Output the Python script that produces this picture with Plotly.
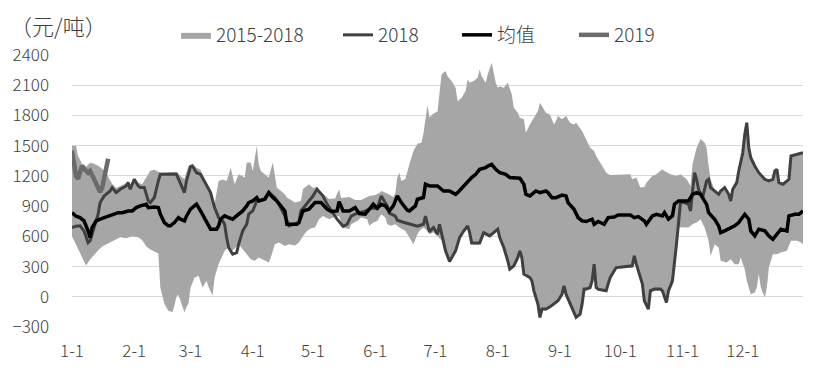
import plotly.graph_objects as go

# ---------------- data (day of year index, 0 = Jan 1) ----------------
month_ticks = [0, 31, 59, 90, 120, 151, 181, 212, 243, 273, 304, 334]
month_labels = ["1-1", "2-1", "3-1", "4-1", "5-1", "6-1", "7-1", "8-1", "9-1", "10-1", "11-1", "12-1"]
y_ticks = [-300, 0, 300, 600, 900, 1200, 1500, 1800, 2100, 2400]

band_upper_days = [0, 2, 3, 5, 7, 9, 11, 13, 15, 17, 19, 20, 22, 24, 27, 28, 29, 31, 33, 35, 37, 39, 41, 43, 44, 52, 54, 56, 58, 60,
                   62, 64, 65, 67, 69, 71, 73, 75, 77, 79, 81, 83, 86, 87, 89, 90, 92, 93, 94, 98, 100, 102, 106, 107, 111, 114, 115, 118, 120, 122,
                   125, 128, 131, 133, 134, 138, 141, 144, 148, 151, 153, 154, 157, 160, 161, 162, 163, 164, 166, 167, 168, 170, 172, 174, 175, 177, 178, 180, 182, 184,
                   186, 187, 189, 191, 192, 194, 196, 197, 198, 200, 202, 203, 204, 206, 207, 209, 211, 212, 213, 215, 217, 219, 220, 222, 223, 225, 226, 228, 230, 232,
                   233, 235, 236, 238, 240, 241, 242, 244, 246, 248, 250, 251, 254, 256, 258, 260, 261, 263, 265, 266, 268, 278, 279, 281, 283, 285, 286, 289, 291, 294,
                   295, 298, 301, 303, 304, 306, 308, 309, 310, 311, 313, 315, 316, 317, 318, 320, 322, 323, 325, 327, 328, 329, 331, 332, 334, 335, 336, 337, 338, 340,
                   342, 345, 347, 349, 350, 351, 352, 354, 357, 358, 361, 364]
band_upper = [1500, 1500, 1400, 1320, 1290, 1330, 1320, 1300, 1270, 1230, 1160, 1120, 1080, 1100, 1130, 1150, 1100, 1180, 1130, 1120, 1180, 1250, 1260, 1240, 1230, 1240, 1200, 1170, 1300, 1320,
              1280, 1260, 1200, 1110, 1050, 920, 1150, 1165, 1150, 1280, 1117, 1216, 1183, 1333, 1333, 1249, 1496, 1315, 1249, 1183, 1332, 1084, 1017, 985, 935, 950, 1070, 1117, 1080, 1090,
              1020, 970, 975, 1067, 980, 990, 960, 960, 1000, 1010, 1030, 1050, 1025, 990, 1030, 1183, 1232, 1150, 1170, 1250, 1315, 1447, 1520, 1530, 1620, 1900, 1780, 1820, 1840, 2207,
              2240, 2190, 2141, 2074, 1942, 1975, 2042, 2157, 2124, 2141, 2174, 2256, 2190, 2124, 2207, 2322, 2124, 2074, 2091, 2074, 2124, 2008, 1876, 1827, 1777, 1761, 1628, 1711, 1777, 1843,
              1926, 1860, 1827, 1810, 1711, 1744, 1794, 1761, 1794, 1728, 1711, 1728, 1645, 1563, 1480, 1447, 1397, 1331, 1265, 1232, 1209, 1216, 1166, 1183, 1084, 1090, 1133, 1199, 1216, 1265,
              1249, 1216, 1199, 1216, 1200, 1170, 1100, 1320, 1400, 1477, 1566, 1530, 1480, 1300, 1166, 1060, 1030, 1060, 1090, 1030, 1000, 1070, 1140, 1260, 1440, 1620, 1735, 1490, 1390, 1300,
              1240, 1175, 1160, 1175, 1255, 1270, 1140, 1125, 1175, 1400, 1420, 1435]

band_lower_days = [0, 2, 4, 6, 7, 9, 11, 13, 15, 18, 21, 24, 27, 30, 33, 35, 37, 39, 41, 43, 44, 46, 48, 50, 51, 52, 53, 54, 56, 57,
                   58, 59, 61, 63, 65, 67, 68, 70, 71, 73, 74, 76, 78, 80, 83, 85, 87, 89, 91, 93, 95, 98, 99, 101, 103, 106, 108, 111, 113, 115,
                   117, 119, 121, 123, 125, 128, 130, 133, 135, 138, 139, 142, 144, 147, 148, 150, 152, 154, 156, 157, 159, 161, 163, 166, 168, 170, 172, 173, 175, 177,
                   178, 180, 182, 184, 186, 188, 191, 193, 195, 197, 198, 199, 203, 205, 208, 212, 213, 215, 217, 218, 220, 222, 223, 224, 225, 228, 229, 230, 232, 233,
                   234, 236, 238, 240, 242, 244, 245, 246, 248, 250, 251, 253, 254, 255, 256, 258, 259, 260, 261, 262, 265, 266, 267, 268, 270, 271, 279, 280, 281, 282,
                   284, 285, 287, 288, 290, 293, 294, 296, 297, 299, 300, 301, 302, 303, 305, 307, 309, 311, 313, 315, 317, 318, 320, 322, 323, 326, 328, 330, 332, 333,
                   335, 336, 338, 340, 341, 342, 343, 345, 346, 347, 349, 351, 353, 356, 358, 361, 363, 364]
band_lower = [600, 520, 430, 360, 310, 370, 420, 460, 500, 530, 560, 590, 580, 600, 590, 560, 500, 470, 450, 430, 90, -70, -140, -150, -90, 0, 20, -40, -155, -100,
              -70, 90, 190, 208, 92, 158, 100, 10, 191, 324, 373, 456, 489, 460, 522, 470, 423, 373, 357, 390, 370, 340, 390, 522, 538, 505, 522, 510, 538, 604,
              654, 680, 687, 770, 803, 770, 786, 803, 687, 670, 720, 753, 786, 770, 704, 737, 753, 820, 786, 720, 704, 720, 687, 654, 588, 522, 621, 654, 687, 654,
              620, 640, 600, 560, 440, 340, 440, 570, 630, 680, 620, 520, 520, 620, 590, 650, 570, 470, 340, 260, 290, 370, 440, 370, 210, 175, 140, 40, -90, -215,
              -135, -135, -115, -90, -55, 10, 95, 10, -90, -185, -215, -185, -90, 60, 60, 75, 140, 305, 75, 60, 50, 45, 115, 175, 240, 275, 290, 390, 310, 240,
              115, -55, -135, 45, 60, 60, 45, -70, 45, 140, 305, 500, 690, 690, 690, 687, 720, 737, 770, 687, 555, 406, 522, 489, 357, 340, 373, 324, 324, 390,
              274, 159, 26, 43, 92, 225, 92, -7, 92, 290, 423, 423, 439, 456, 555, 555, 538, 522]

y2018_days = [0, 2, 4, 6, 8, 9, 11, 13, 14, 16, 19, 20, 22, 24, 27, 28, 29, 31, 33, 34, 36, 38, 39, 41, 43, 44, 52, 54, 56, 57,
              59, 60, 62, 64, 67, 69, 71, 73, 75, 76, 77, 78, 80, 82, 83, 85, 87, 88, 90, 92, 93, 96, 98, 101, 103, 106, 108, 111, 113, 114,
              116, 118, 120, 122, 125, 127, 130, 132, 135, 137, 139, 142, 146, 149, 152, 154, 157, 158, 161, 162, 165, 168, 172, 175, 176, 178, 180, 182, 183, 186,
              188, 191, 193, 195, 197, 198, 199, 203, 205, 208, 212, 213, 215, 217, 218, 220, 222, 223, 224, 225, 228, 229, 230, 232, 233, 234, 236, 238, 240, 242,
              244, 245, 246, 248, 250, 251, 253, 254, 255, 256, 258, 259, 260, 261, 262, 265, 266, 267, 268, 270, 271, 279, 280, 281, 282, 284, 285, 287, 288, 290,
              293, 294, 296, 297, 299, 300, 301, 303, 305, 307, 308, 310, 311, 312, 314, 316, 317, 318, 320, 322, 323, 325, 327, 328, 329, 331, 332, 334, 335, 336,
              337, 338, 340, 342, 345, 347, 349, 350, 351, 352, 354, 357, 358, 361, 364]
y2018 = [687, 700, 704, 654, 538, 555, 687, 820, 935, 1001, 1050, 1084, 1034, 1067, 1100, 1133, 1067, 1166, 1100, 1084, 1084, 952, 935, 985, 1150, 1216, 1216, 1117, 1034, 1150,
         1290, 1298, 1232, 1216, 1100, 1034, 885, 786, 753, 720, 588, 489, 423, 439, 522, 654, 720, 820, 852, 952, 952, 968, 1034, 985, 919, 803, 704, 720, 737, 852,
         902, 950, 1000, 1067, 1000, 920, 830, 770, 700, 720, 800, 830, 850, 880, 880, 1000, 900, 830, 800, 760, 740, 720, 700, 720, 800, 645, 687, 621, 720, 456,
         350, 456, 588, 653, 704, 637, 535, 535, 637, 604, 671, 588, 489, 357, 274, 307, 390, 456, 390, 225, 191, 159, 59, -73, -205, -122, -122, -100, -73, -40,
         26, 109, 26, -73, -172, -205, -172, -73, 76, 76, 92, 159, 324, 92, 76, 66, 59, 129, 191, 258, 290, 307, 406, 324, 258, 129, -40, -122, 59, 76,
         76, 59, -56, 59, 159, 324, 522, 935, 935, 918, 852, 1232, 1166, 1067, 984, 1150, 1166, 1084, 1050, 1017, 1050, 1084, 1017, 951, 1067, 1133, 1249, 1430, 1612, 1728,
         1480, 1380, 1298, 1232, 1166, 1150, 1166, 1249, 1265, 1133, 1117, 1166, 1397, 1414, 1430]

mean_days = [0, 2, 4, 6, 8, 9, 10, 12, 14, 16, 19, 20, 23, 25, 28, 30, 32, 34, 37, 38, 41, 43, 44, 46, 48, 49, 51, 53, 54, 56,
             57, 59, 62, 64, 67, 69, 72, 73, 74, 76, 78, 80, 83, 85, 87, 88, 90, 92, 93, 96, 98, 100, 102, 104, 106, 107, 109, 112, 113, 115,
             118, 121, 124, 127, 129, 132, 133, 135, 138, 141, 143, 146, 148, 150, 152, 154, 156, 158, 160, 162, 164, 167, 168, 171, 172, 175, 176, 178, 182, 185,
             188, 191, 192, 195, 197, 199, 201, 203, 206, 207, 209, 211, 213, 216, 218, 223, 225, 226, 228, 231, 233, 236, 237, 239, 241, 244, 246, 247, 250, 252,
             254, 256, 259, 260, 262, 265, 267, 270, 272, 278, 280, 282, 285, 286, 289, 291, 294, 295, 297, 299, 300, 302, 304, 307, 309, 311, 313, 316, 317, 320,
             322, 323, 325, 327, 330, 332, 335, 337, 338, 340, 342, 345, 347, 349, 351, 353, 356, 357, 360, 362, 364]
mean_vals = [835, 800, 786, 753, 654, 588, 687, 753, 770, 786, 803, 820, 835, 835, 852, 852, 885, 902, 919, 885, 891, 885, 820, 737, 704, 704, 737, 786, 770, 753,
             800, 870, 919, 852, 737, 671, 671, 704, 770, 803, 786, 770, 820, 852, 902, 935, 952, 985, 952, 968, 1034, 985, 952, 902, 852, 720, 720, 720, 737, 852,
             870, 935, 935, 869, 846, 852, 945, 852, 852, 885, 826, 820, 869, 919, 879, 919, 902, 852, 902, 1001, 935, 859, 852, 902, 968, 985, 1117, 1100, 1100, 1050,
             1050, 1017, 1034, 1100, 1133, 1183, 1216, 1265, 1282, 1298, 1315, 1265, 1232, 1216, 1183, 1176, 1117, 1017, 1001, 1050, 1034, 1050, 1034, 984, 984, 1010, 1001, 935, 869, 786,
             753, 747, 770, 720, 747, 720, 786, 792, 812, 812, 786, 796, 753, 720, 803, 819, 803, 836, 770, 803, 919, 951, 951, 951, 1017, 1034, 1017, 918, 836, 770,
             704, 637, 654, 671, 704, 737, 819, 770, 654, 604, 671, 654, 604, 571, 621, 671, 654, 803, 819, 819, 852]

y2019_days = [0, 1, 2, 3, 4, 5, 6, 7, 8, 9, 10, 11, 12, 13, 14, 15, 16, 17, 18]
y2019 = [1450, 1320, 1200, 1170, 1230, 1300, 1270, 1240, 1230, 1250, 1210, 1180, 1120, 1080, 1040, 1080, 1170, 1300, 1370]

# ---------------- figure ----------------
FONT = "Noto Sans CJK SC"
TEXT = "#404040"
LEG_Y = (327 - 35) / 272

fig = go.Figure()
fig.add_trace(go.Scatter(
    x=band_lower_days + band_upper_days[::-1],
    y=band_lower + band_upper[::-1],
    fill="toself", fillcolor="#a6a6a6", line=dict(width=0, color="#a6a6a6"),
    mode="lines", name="2015-2018", hoverinfo="skip", legend="legend"))
fig.add_trace(go.Scatter(x=y2018_days, y=y2018, mode="lines", name="2018",
                         line=dict(color="#404040", width=3), legend="legend2"))
fig.add_trace(go.Scatter(x=mean_days, y=mean_vals, mode="lines", name="均值",
                         line=dict(color="#000000", width=3.5), legend="legend3"))
fig.add_trace(go.Scatter(x=y2019_days, y=y2019, mode="lines", name="2019",
                         line=dict(color="#6a6a6a", width=4.5), legend="legend4"))

def leg(xpx):
    return dict(orientation="h", x=(xpx - 72) / 731, y=LEG_Y, xanchor="left", yanchor="middle",
                font=dict(family=FONT, size=19, color=TEXT, weight=300), bgcolor="rgba(0,0,0,0)")

# the page body has an 8px margin: the figure is sized so that the plot area
# lands at x 72..803, y 55..327 of the 814x371 window
fig.update_layout(
    width=806, height=355,
    margin=dict(l=64, r=11, t=47, b=36, autoexpand=False),
    paper_bgcolor="white", plot_bgcolor="white",
    font=dict(family=FONT, size=17, color=TEXT, weight=300),
    showlegend=True,
    legend=leg(176), legend2=leg(338), legend3=leg(457), legend4=leg(574),
    annotations=[dict(text="（元/吨）", x=(9 - 72) / 731, y=(327 - 25) / 272, xref="paper", yref="paper",
                      xanchor="left", yanchor="middle", showarrow=False, borderpad=0,
                      font=dict(family=FONT, size=22, color=TEXT, weight=300))],
)
fig.update_xaxes(range=[0, 364], tickmode="array", tickvals=month_ticks, ticktext=month_labels,
                 showgrid=False, zeroline=False, showline=False, ticks="", ticklabelstandoff=12,
                 tickfont=dict(family=FONT, size=17, color=TEXT, weight=300))
fig.update_yaxes(range=[-300, 2400], tickmode="array", tickvals=y_ticks,
                 showgrid=True, gridcolor="#d9d9d9", gridwidth=1, zeroline=False, showline=False,
                 ticks="", ticklabelstandoff=22, tickfont=dict(family=FONT, size=17, color=TEXT, weight=300))

fig.write_html("out.html")
